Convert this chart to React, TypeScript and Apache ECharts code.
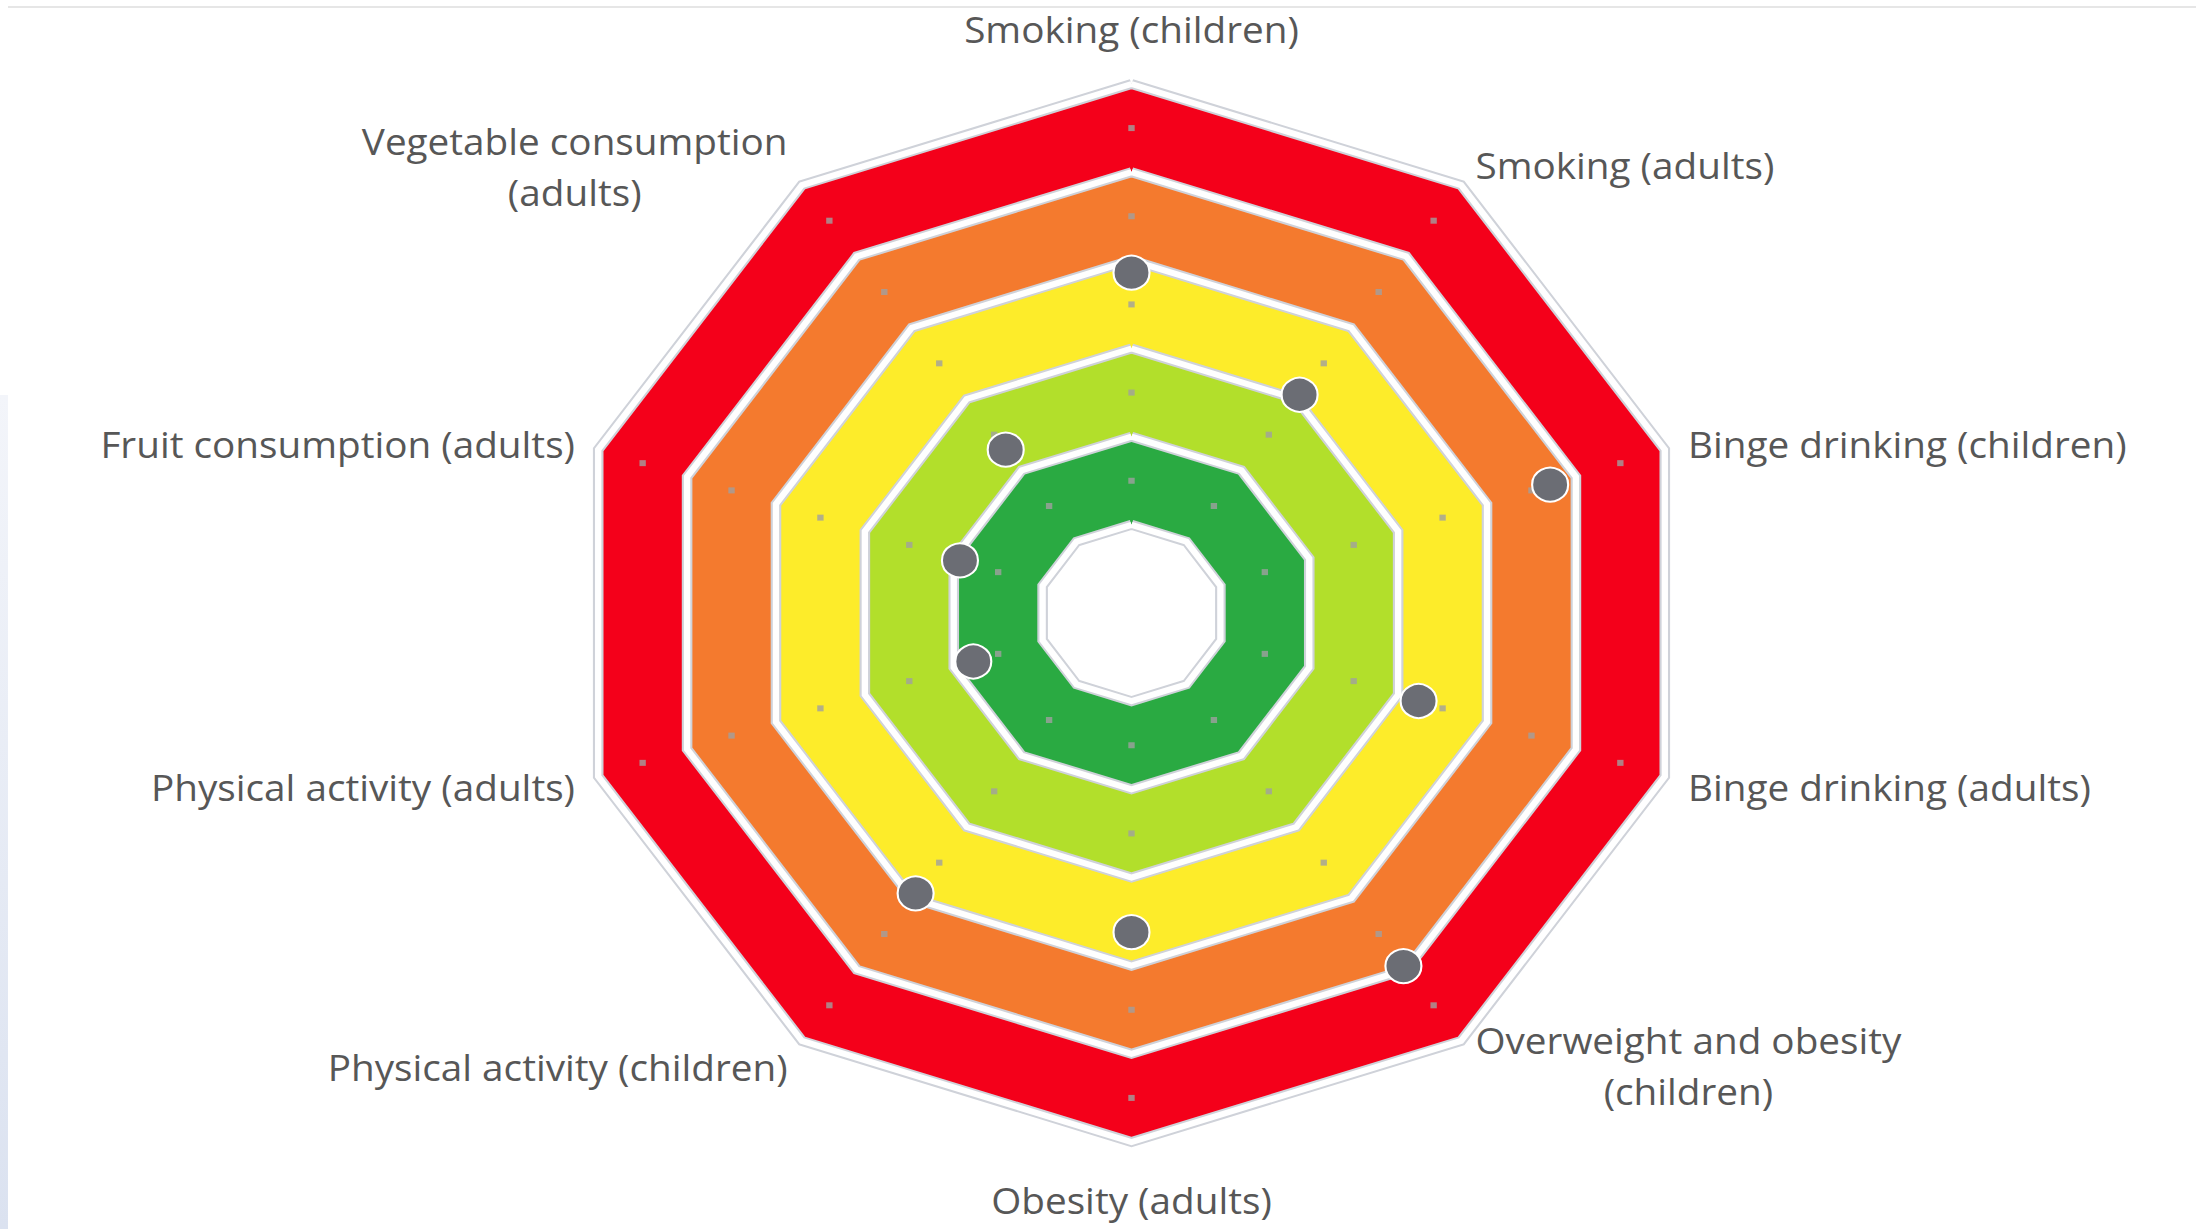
import React, { useEffect, useRef } from "react";
import * as echarts from "echarts";

// ---- data (read clockwise from the top) ----
const categories = [
  "Smoking (children)",
  "Smoking (adults)",
  "Binge drinking (children)",
  "Binge drinking (adults)",
  "Overweight and obesity\n(children)",
  "Obesity (adults)",
  "Physical activity (children)",
  "Physical activity (adults)",
  "Fruit consumption (adults)",
  "Vegetable consumption\n(adults)",
];
const scores = [3.86, 3.06, 4.71, 3.23, 4.95, 3.62, 3.93, 1.78, 1.93, 2.29];
const scaleMin = 0;
const scaleMax = 6;
const bandCount = 6;
const gridDotLevels = [1.5, 2.5, 3.5, 4.5, 5.5];
const bandColors = ["#ffffff", "#2AAA42", "#B2DF2B", "#FDEC2A", "#F47A2E", "#F4001A"];

// ---- layout / style ----
const PAGE_W = 2196;
const PAGE_H = 1229;
const STRETCH = 1.06;
const CHART_W = Math.round(PAGE_W / STRETCH);
const CX = 1131.5 / STRETCH;
const CY = 613;
const R = 529;
const FONT = "'Open Sans', 'DejaVu Sans', sans-serif";
const FONT_SIZE = 36.5;
const LABEL_COLOR = "#575757";
// [top padding, bottom padding] per label (clockwise order) to nudge text vertically
const labelPad = [
  [0, 13],
  [0, 4],
  [4, 0],
  [6, 0],
  [12, 0],
  [19, 0],
  [14, 0],
  [6, 0],
  [4, 0],
  [0, 0],
];

export default function App() {
  const ref = useRef<HTMLDivElement | null>(null);

  useEffect(() => {
    document.body.style.margin = "0";
    document.body.style.overflow = "hidden";
    if (!ref.current) return;
    const chart = echarts.init(ref.current, undefined, { renderer: "svg" });

    const n = categories.length;
    // ECharts lays indicators counter-clockwise: reorder so the picture reads clockwise
    const ccwOrder = categories.map((_, i) => (i === 0 ? 0 : n - i));
    const indicator = ccwOrder.map((i) => ({
      name: categories[i],
      min: scaleMin,
      max: scaleMax,
    }));

    const rich: Record<string, any> = {};
    categories.forEach((_, k) => {
      rich["n" + k] = {
        fontFamily: FONT,
        fontSize: FONT_SIZE,
        color: LABEL_COLOR,
        lineHeight: 51,
        align: "center",
        padding: [labelPad[k][0], 0, labelPad[k][1], 0],
      };
    });

    const baseRadar = {
      center: [CX, CY],
      radius: R,
      startAngle: 90,
      shape: "polygon",
      splitNumber: bandCount,
      indicator,
      axisLine: { show: false },
      axisTick: { show: false },
      axisLabel: { show: false },
    };

    chart.setOption({
      animation: false,
      backgroundColor: "#ffffff",
      radar: [
        {
          ...baseRadar,
          z: 0,
          nameGap: 23,
          axisName: {
            color: LABEL_COLOR,
            fontFamily: FONT,
            fontSize: FONT_SIZE,
            formatter: (name: string) => {
              const k = categories.indexOf(name);
              return name
                .split("\n")
                .map((line) => `{n${k}|${line}}`)
                .join("\n");
            },
            rich,
          },
          splitArea: { show: true, areaStyle: { color: bandColors, opacity: 1 } },
          splitLine: { show: true, lineStyle: { color: "#CFD2D9", width: 10 } },
        },
        {
          ...baseRadar,
          z: 1,
          axisName: { show: false },
          splitArea: { show: false },
          splitLine: { show: true, lineStyle: { color: "#ffffff", width: 6 } },
        },
      ],
      series: [
        {
          type: "radar",
          radarIndex: 0,
          z: 3,
          silent: true,
          symbol: "rect",
          symbolSize: 6,
          lineStyle: { width: 0, opacity: 0 },
          itemStyle: { color: "rgba(160,160,160,0.8)" },
          data: gridDotLevels.map((v) => ({ value: indicator.map(() => v) })),
        },
        {
          type: "radar",
          radarIndex: 0,
          z: 4,
          silent: true,
          symbol: "circle",
          symbolSize: 34,
          lineStyle: { width: 0, opacity: 0 },
          itemStyle: { color: "#6B6D74", borderColor: "#ffffff", borderWidth: 2 },
          data: [{ value: ccwOrder.map((i) => scores[i]) }],
        },
      ],
    });

    return () => chart.dispose();
  }, []);

  return (
    <div
      style={{
        position: "relative",
        width: PAGE_W,
        height: PAGE_H,
        overflow: "hidden",
        background: "#ffffff",
      }}
    >
      <div
        ref={ref}
        style={{
          position: "absolute",
          left: 0,
          top: 0,
          width: CHART_W,
          height: PAGE_H,
          transform: `scaleX(${STRETCH})`,
          transformOrigin: "0 0",
        }}
      />
      <div
        style={{
          position: "absolute",
          left: 8,
          top: 6,
          width: PAGE_W - 8,
          height: 2,
          background: "#e6e6e6",
        }}
      />
      <div
        style={{
          position: "absolute",
          left: 0,
          top: 395,
          width: 8,
          height: PAGE_H - 395,
          background: "linear-gradient(#f3f5fa, #dbe2f0)",
        }}
      />
    </div>
  );
}
